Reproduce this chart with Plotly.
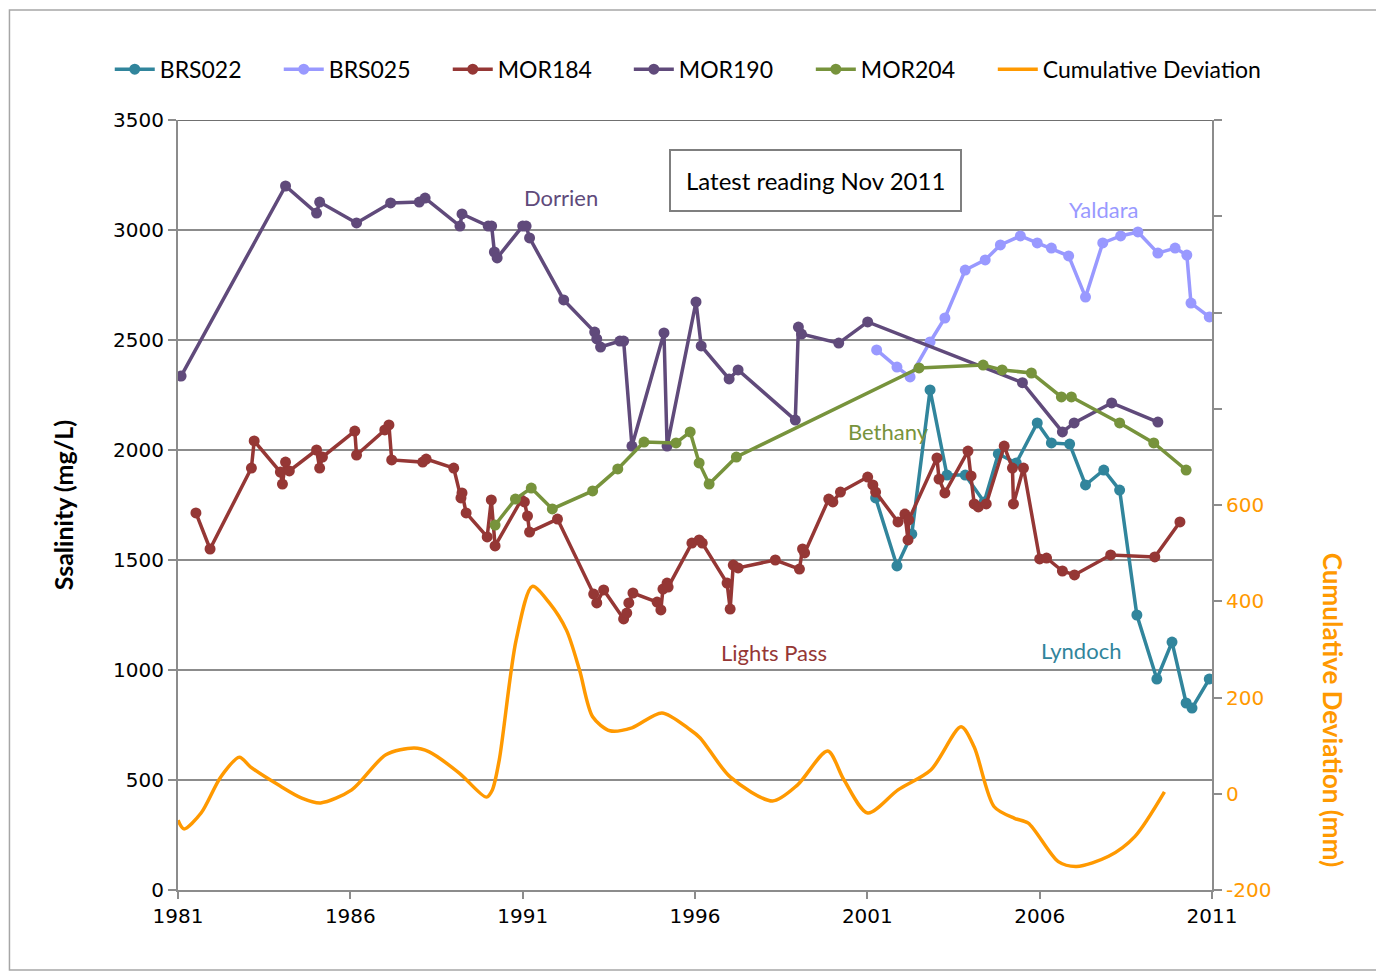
import plotly.graph_objects as go

# salinity readings (decimal year, mg/L)
brs022_year = [2001.24, 2001.86, 2002.29, 2002.82, 2003.31, 2003.84, 2004.39, 2004.80, 2005.32,
               2005.93, 2006.34, 2006.87, 2007.33, 2007.86, 2008.32, 2008.82, 2009.40, 2009.84,
               2010.25, 2010.42, 2010.92]
brs022_val = [1782, 1473, 1618, 2273, 1886, 1886, 1764, 1982, 1941,
              2123, 2032, 2027, 1841, 1909, 1818, 1250, 959, 1127,
              850, 827, 959]

brs025_year = [2001.27, 2001.86, 2002.24, 2002.82, 2003.25, 2003.84, 2004.42, 2004.86, 2005.44,
               2005.93, 2006.34, 2006.84, 2007.33, 2007.83, 2008.35, 2008.85, 2009.43, 2009.93,
               2010.27, 2010.39, 2010.92]
brs025_val = [2455, 2377, 2332, 2491, 2600, 2818, 2864, 2932, 2973,
              2941, 2918, 2882, 2695, 2941, 2973, 2991, 2895, 2918,
              2886, 2668, 2605]

mor184_year = [1981.52, 1981.93, 1983.13, 1983.21, 1983.97, 1984.03, 1984.12, 1984.23, 1985.02,
               1985.11, 1985.19, 1986.13, 1986.18, 1987.00, 1987.12, 1987.20, 1988.10, 1988.20,
               1989.00, 1989.21, 1989.24, 1989.36, 1989.97, 1990.09, 1990.20, 1990.96, 1991.05,
               1991.14, 1991.20, 1992.01, 1993.06, 1993.15, 1993.35, 1993.93, 1994.02, 1994.08,
               1994.20, 1994.90, 1995.01, 1995.07, 1995.19, 1995.22, 1995.91, 1996.12, 1996.21,
               1996.93, 1997.02, 1997.11, 1997.25, 1998.33, 1999.03, 1999.12, 1999.18, 1999.88,
               2000.00, 2000.22, 2001.01, 2001.16, 2001.24, 2001.89, 2002.09, 2002.18, 2002.20,
               2003.02, 2003.08, 2003.25, 2003.92, 2004.01, 2004.10, 2004.22, 2004.45, 2004.97,
               2005.21, 2005.24, 2005.53, 2006.00, 2006.20, 2006.66, 2007.01, 2008.06, 2009.34,
               2010.07]
mor184_val = [1714, 1550, 1918, 2041, 1900, 1845, 1945, 1905, 2000,
              1918, 1968, 2086, 1977, 2091, 2114, 1955, 1945, 1959,
              1918, 1782, 1805, 1714, 1605, 1773, 1564, 1773, 1764,
              1700, 1627, 1686, 1345, 1305, 1364, 1232, 1259, 1305,
              1350, 1309, 1273, 1368, 1395, 1377, 1577, 1591, 1577,
              1395, 1277, 1477, 1464, 1500, 1459, 1550, 1532, 1777,
              1764, 1809, 1877, 1841, 1809, 1673, 1709, 1591, 1682,
              1964, 1868, 1805, 1995, 1882, 1755, 1741, 1755, 2018,
              1918, 1755, 1918, 1505, 1509, 1450, 1432, 1523, 1514,
              1673]

mor190_year = [1981.09, 1984.12, 1985.02, 1985.11, 1986.18, 1987.17, 1988.00, 1988.17, 1989.18,
               1989.24, 1990.00, 1990.10, 1990.18, 1990.26, 1991.00, 1991.10, 1991.20, 1992.19,
               1993.09, 1993.15, 1993.26, 1993.82, 1993.93, 1994.17, 1995.10, 1995.19, 1996.03,
               1996.18, 1996.99, 1997.25, 1998.91, 1999.00, 1999.09, 2000.17, 2001.01, 2005.50,
               2006.66, 2007.00, 2008.09, 2009.43]
mor190_val = [2336, 3200, 3077, 3127, 3032, 3123, 3127, 3145, 3018,
              3073, 3018, 3018, 2900, 2873, 3018, 3018, 2964, 2682,
              2536, 2505, 2468, 2495, 2495, 2018, 2532, 2018, 2673,
              2473, 2323, 2364, 2136, 2559, 2527, 2486, 2582, 2306,
              2082, 2123, 2214, 2127]

mor204_year = [1990.20, 1990.79, 1991.25, 1991.86, 1993.03, 1993.76, 1994.52, 1995.45, 1995.86,
               1996.12, 1996.41, 1997.20, 2002.50, 2004.36, 2004.91, 2005.76, 2006.63, 2006.92,
               2008.32, 2009.31, 2010.25]
mor204_val = [1659, 1777, 1827, 1732, 1814, 1914, 2036, 2032, 2082,
              1941, 1845, 1968, 2373, 2386, 2364, 2350, 2241, 2241,
              2123, 2032, 1909]

# cumulative rainfall deviation (mm), right axis
cumdev_year = [1981.00, 1981.17, 1981.67, 1982.24, 1982.78, 1983.10, 1983.92, 1984.59, 1985.14,
               1986.04, 1987.03, 1987.85, 1988.29, 1989.16, 1989.95, 1990.12, 1990.32, 1990.81,
               1991.28, 1991.78, 1992.27, 1992.65, 1993.03, 1993.53, 1994.17, 1995.04, 1995.86,
               1996.15, 1997.02, 1998.25, 1998.97, 1999.85, 2000.32, 2001.01, 2001.89, 2002.85,
               2003.72, 2004.10, 2004.68, 2005.27, 2005.67, 2006.54, 2007.07, 2008.00, 2008.76,
               2009.62]
cumdev_val = [-55, -73, -40, 35, 76, 56, 18, -9, -19,
              8, 81, 95, 87, 43, -7, 8, 70, 319,
              431, 396, 340, 257, 160, 131, 137, 168, 133,
              116, 35, -15, 18, 89, 29, -40, 8, 50,
              139, 97, -27, -51, -61, -141, -151, -130, -89,
              4]

series = [
    ("BRS022", brs022_year, brs022_val, "#31859C", "legend"),
    ("BRS025", brs025_year, brs025_val, "#9999FF", "legend"),
    ("MOR184", mor184_year, mor184_val, "#953735", "legend"),
    ("MOR190", mor190_year, mor190_val, "#604A7B", "legend2"),
    ("MOR204", mor204_year, mor204_val, "#77933C", "legend2"),
]

labels = [
    ("Dorrien", 1992.1, 3150, "#604A7B"),
    ("Yaldara", 2007.85, 3095, "#9999FF"),
    ("Bethany", 2001.6, 2085, "#77933C"),
    ("Lights Pass", 1998.3, 1080, "#953735"),
    ("Lyndoch", 2007.2, 1090, "#31859C"),
]

TEXT_FONT = "Lato, 'Open Sans', sans-serif"
TICK_FONT = "'DejaVu Sans', Verdana, sans-serif"
GRID = "#8C8C8C"

fig = go.Figure()

for name, xs, ys, col, leg in series:
    fig.add_trace(
        go.Scatter(
            x=xs,
            y=ys,
            mode="lines+markers",
            name=name,
            legend=leg,
            line=dict(color=col, width=3.5),
            marker=dict(size=11, color=col),
        )
    )

fig.add_trace(
    go.Scatter(
        x=cumdev_year,
        y=cumdev_val,
        mode="lines",
        name="Cumulative Deviation",
        legend="legend3",
        line=dict(color="#FF9900", width=3.5, shape="spline", smoothing=0.8),
        yaxis="y2",
    )
)

for text, lx, ly, col in labels:
    fig.add_annotation(
        x=lx, y=ly, text=text, showarrow=False,
        font=dict(family=TEXT_FONT, size=22, color=col),
    )

fig.add_annotation(
    x=0.617, y=0.921, xref="paper", yref="paper", xanchor="center", yanchor="middle",
    text="Latest reading Nov 2011", showarrow=False,
    font=dict(family=TEXT_FONT, size=24, color="black"),
    bordercolor="#7F7F7F", borderwidth=2, borderpad=15,
    bgcolor="white",
)

# right axis title reads top to bottom
fig.add_annotation(
    x=1.117, y=0.234, xref="paper", yref="paper", xanchor="center", yanchor="middle",
    text="<b>Cumulative Deviation (mm)</b>", showarrow=False, textangle=90,
    font=dict(family=TEXT_FONT, size=26, color="#FF9900"),
)

fig.add_shape(type="line", xref="paper", yref="y", x0=0, x1=1, y0=3500, y1=3500,
              line=dict(color="#404040", width=1.5))
fig.add_shape(type="rect", xref="paper", yref="paper", x0=-0.163, x1=1.161, y0=-0.104, y1=1.143,
              line=dict(color="#A6A6A6", width=1.5))

legend_common = dict(
    orientation="h", xanchor="left", y=1.066, yanchor="middle",
    font=dict(family=TEXT_FONT, size=23, color="black"),
    itemwidth=40,
)

fig.update_layout(
    width=1384,
    height=976,
    margin=dict(l=170, r=180, t=112, b=94),
    paper_bgcolor="white",
    plot_bgcolor="white",
    font=dict(family=TEXT_FONT, color="black"),
    showlegend=True,
    legend=dict(legend_common, x=-0.066, entrywidth=114, entrywidthmode="pixels"),
    legend2=dict(legend_common, x=0.436, entrywidth=127, entrywidthmode="pixels"),
    legend3=dict(legend_common, x=0.788),
    xaxis=dict(
        range=[1981, 2011], tickvals=[1981, 1986, 1991, 1996, 2001, 2006, 2011],
        showgrid=False, zeroline=False, showline=True, linecolor=GRID, linewidth=2,
        ticks="outside", ticklen=7, tickwidth=1.5, tickcolor=GRID,
        tickfont=dict(family=TICK_FONT, size=20, color="black"),
    ),
    yaxis=dict(
        range=[0, 3500], dtick=500,
        showgrid=True, gridcolor=GRID, gridwidth=2, zeroline=False,
        showline=True, linecolor=GRID, linewidth=2,
        ticks="outside", ticklen=8, tickwidth=1.5, tickcolor=GRID,
        tickfont=dict(family=TICK_FONT, size=20, color="black"),
        title=dict(text="<b>Ssalinity (mg/L)</b>", standoff=32,
                   font=dict(family=TEXT_FONT, size=25, color="black")),
    ),
    yaxis2=dict(
        overlaying="y", side="right", range=[-200, 1400],
        tickvals=[-200, 0, 200, 400, 600, 800, 1000, 1200, 1400],
        ticktext=["-200", "0", "200", "400", "600", "", "", "", ""],
        showgrid=False, zeroline=False, showline=True, linecolor=GRID, linewidth=2,
        ticks="outside", ticklen=8, tickwidth=1.5, tickcolor=GRID,
        tickfont=dict(family=TICK_FONT, size=20, color="#FF9900"),
    ),
)

fig.write_html("out.html")
